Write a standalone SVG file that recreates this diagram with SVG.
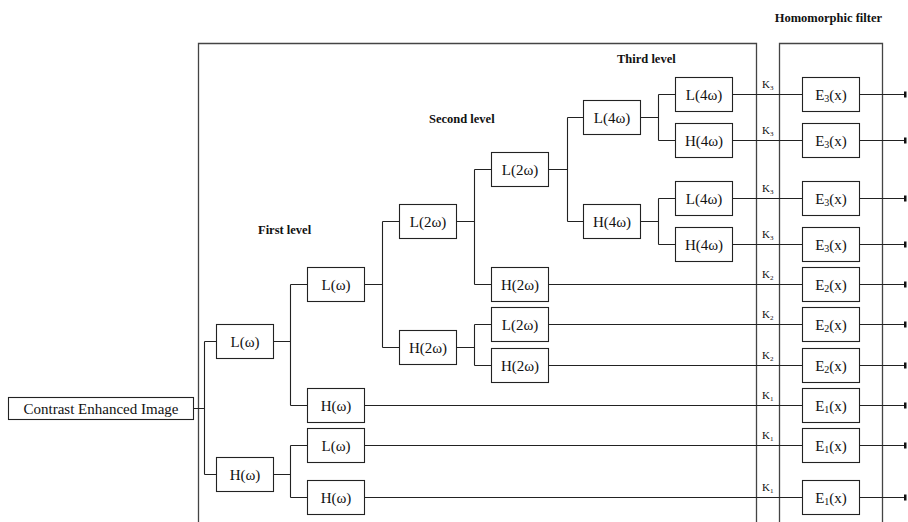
<svg xmlns="http://www.w3.org/2000/svg" width="908" height="522" viewBox="0 0 908 522">
<style>
.box{fill:#fff;stroke:#222;stroke-width:1.1}
.t{font-family:"Liberation Serif","Times New Roman",serif;font-size:15px;fill:#111;text-anchor:middle}
.lbl{font-family:"Liberation Serif","Times New Roman",serif;font-size:12.5px;font-weight:bold;fill:#111}
.k{font-family:"Liberation Serif","Times New Roman",serif;font-size:11px;fill:#111}
.c{fill:none;stroke:#222;stroke-width:1.1}
.f{fill:none;stroke:#444;stroke-width:1.3}
</style>
<defs>
<marker id="tick" markerWidth="4" markerHeight="8" refX="2" refY="4" orient="auto" markerUnits="userSpaceOnUse">
<rect x="0" y="1" width="2.5" height="6" fill="#111"/>
</marker>
</defs>
<g id="frames">
<path class="f" d="M198.5,522 V43.5 H756.5 V522"/>
<path class="f" d="M779.5,522 V43.5 H882.5 V522"/>
</g>
<g id="labels">
<text class="lbl" x="882" y="22" text-anchor="end">Homomorphic filter</text>
<text class="lbl" x="617" y="63">Third level</text>
<text class="lbl" x="429" y="123">Second level</text>
<text class="lbl" x="258" y="234">First level</text>
</g>
<g id="connectors">
<path class="c" d="M193.5,408.5 H204.5 M204.5,341.5 V474.5 M204.5,341.5 H216.5 M204.5,474.5 H216.5"/>
<path class="c" d="M273.5,341.5 H290.5 M290.5,284.5 V405.5 M290.5,284.5 H307.5 M290.5,405.5 H307.5"/>
<path class="c" d="M273.5,474.5 H290.5 M290.5,445.5 V497.5 M290.5,445.5 H307.5 M290.5,497.5 H307.5"/>
<path class="c" d="M364.5,284.5 H382.5 M382.5,221.5 V347.5 M382.5,221.5 H399.5 M382.5,347.5 H399.5"/>
<path class="c" d="M456.5,221.5 H474.5 M474.5,169.5 V284.5 M474.5,169.5 H491.5 M474.5,284.5 H491.5"/>
<path class="c" d="M456.5,347.5 H474.5 M474.5,324.5 V365.5 M474.5,324.5 H491.5 M474.5,365.5 H491.5"/>
<path class="c" d="M548.5,169.5 H567.5 M567.5,117.5 V221.5 M567.5,117.5 H583.5 M567.5,221.5 H583.5"/>
<path class="c" d="M640.5,117.5 H658.5 M658.5,94.5 V140.5 M658.5,94.5 H675.5 M658.5,140.5 H675.5"/>
<path class="c" d="M640.5,221.5 H658.5 M658.5,198.5 V244.5 M658.5,198.5 H675.5 M658.5,244.5 H675.5"/>
<path class="c" d="M732.5,94.5 H802.5 M732.5,140.5 H802.5 M732.5,198.5 H802.5 M732.5,244.5 H802.5"/>
<path class="c" d="M548.5,284.5 H802.5 M548.5,324.5 H802.5 M548.5,365.5 H802.5"/>
<path class="c" d="M364.5,405.5 H802.5 M364.5,445.5 H802.5 M364.5,497.5 H802.5"/>
<g marker-end="url(#tick)">
<path class="c" d="M859.5,94.5 H906"/>
<path class="c" d="M859.5,140.5 H906"/>
<path class="c" d="M859.5,198.5 H906"/>
<path class="c" d="M859.5,244.5 H906"/>
<path class="c" d="M859.5,284.5 H906"/>
<path class="c" d="M859.5,324.5 H906"/>
<path class="c" d="M859.5,365.5 H906"/>
<path class="c" d="M859.5,405.5 H906"/>
<path class="c" d="M859.5,445.5 H906"/>
<path class="c" d="M859.5,497.5 H906"/>
</g>
</g>
<g id="klabels">
<text class="k" x="762" y="88">K<tspan font-size="7" dy="1.5">3</tspan></text>
<text class="k" x="762" y="134">K<tspan font-size="7" dy="1.5">3</tspan></text>
<text class="k" x="762" y="192">K<tspan font-size="7" dy="1.5">3</tspan></text>
<text class="k" x="762" y="238">K<tspan font-size="7" dy="1.5">3</tspan></text>
<text class="k" x="762" y="278">K<tspan font-size="7" dy="1.5">2</tspan></text>
<text class="k" x="762" y="318">K<tspan font-size="7" dy="1.5">2</tspan></text>
<text class="k" x="762" y="359">K<tspan font-size="7" dy="1.5">2</tspan></text>
<text class="k" x="762" y="399">K<tspan font-size="7" dy="1.5">1</tspan></text>
<text class="k" x="762" y="439">K<tspan font-size="7" dy="1.5">1</tspan></text>
<text class="k" x="762" y="491">K<tspan font-size="7" dy="1.5">1</tspan></text>
</g>
<g id="root"><rect class="box" x="8.5" y="397.5" width="185" height="22"/><text class="t" x="101" y="413.5">Contrast Enhanced Image</text></g>
<g id="n1L"><rect class="box" x="216.5" y="324.5" width="57" height="34"/><text class="t" x="245" y="346.5">L(ω)</text></g>
<g id="n1H"><rect class="box" x="216.5" y="457.5" width="57" height="34"/><text class="t" x="245" y="479.5">H(ω)</text></g>
<g id="n2LL"><rect class="box" x="307.5" y="267.5" width="57" height="34"/><text class="t" x="336" y="289.5">L(ω)</text></g>
<g id="n2LH"><rect class="box" x="307.5" y="388.5" width="57" height="34"/><text class="t" x="336" y="410.5">H(ω)</text></g>
<g id="n2HL"><rect class="box" x="307.5" y="428.5" width="57" height="34"/><text class="t" x="336" y="450.5">L(ω)</text></g>
<g id="n2HH"><rect class="box" x="307.5" y="480.5" width="57" height="34"/><text class="t" x="336" y="502.5">H(ω)</text></g>
<g id="n3L"><rect class="box" x="399.5" y="204.5" width="57" height="34"/><text class="t" x="428" y="226.5">L(2ω)</text></g>
<g id="n3H"><rect class="box" x="399.5" y="330.5" width="57" height="34"/><text class="t" x="428" y="352.5">H(2ω)</text></g>
<g id="n4LL"><rect class="box" x="491.5" y="152.5" width="57" height="34"/><text class="t" x="520" y="174.5">L(2ω)</text></g>
<g id="n4LH"><rect class="box" x="491.5" y="267.5" width="57" height="34"/><text class="t" x="520" y="289.5">H(2ω)</text></g>
<g id="n4HL"><rect class="box" x="491.5" y="307.5" width="57" height="34"/><text class="t" x="520" y="329.5">L(2ω)</text></g>
<g id="n4HH"><rect class="box" x="491.5" y="348.5" width="57" height="34"/><text class="t" x="520" y="370.5">H(2ω)</text></g>
<g id="n5L"><rect class="box" x="583.5" y="100.5" width="57" height="34"/><text class="t" x="612" y="122.5">L(4ω)</text></g>
<g id="n5H"><rect class="box" x="583.5" y="204.5" width="57" height="34"/><text class="t" x="612" y="226.5">H(4ω)</text></g>
<g id="n6a"><rect class="box" x="675.5" y="77.5" width="57" height="34"/><text class="t" x="704" y="99.5">L(4ω)</text></g>
<g id="n6b"><rect class="box" x="675.5" y="123.5" width="57" height="34"/><text class="t" x="704" y="145.5">H(4ω)</text></g>
<g id="n6c"><rect class="box" x="675.5" y="181.5" width="57" height="34"/><text class="t" x="704" y="203.5">L(4ω)</text></g>
<g id="n6d"><rect class="box" x="675.5" y="227.5" width="57" height="34"/><text class="t" x="704" y="249.5">H(4ω)</text></g>
<g id="e1"><rect class="box" x="802.5" y="77.5" width="57" height="34"/><text class="t" x="831" y="99.5">E<tspan font-size="10" dy="2">3</tspan><tspan dy="-2">(x)</tspan></text></g>
<g id="e2"><rect class="box" x="802.5" y="123.5" width="57" height="34"/><text class="t" x="831" y="145.5">E<tspan font-size="10" dy="2">3</tspan><tspan dy="-2">(x)</tspan></text></g>
<g id="e3"><rect class="box" x="802.5" y="181.5" width="57" height="34"/><text class="t" x="831" y="203.5">E<tspan font-size="10" dy="2">3</tspan><tspan dy="-2">(x)</tspan></text></g>
<g id="e4"><rect class="box" x="802.5" y="227.5" width="57" height="34"/><text class="t" x="831" y="249.5">E<tspan font-size="10" dy="2">3</tspan><tspan dy="-2">(x)</tspan></text></g>
<g id="e5"><rect class="box" x="802.5" y="267.5" width="57" height="34"/><text class="t" x="831" y="289.5">E<tspan font-size="10" dy="2">2</tspan><tspan dy="-2">(x)</tspan></text></g>
<g id="e6"><rect class="box" x="802.5" y="307.5" width="57" height="34"/><text class="t" x="831" y="329.5">E<tspan font-size="10" dy="2">2</tspan><tspan dy="-2">(x)</tspan></text></g>
<g id="e7"><rect class="box" x="802.5" y="348.5" width="57" height="34"/><text class="t" x="831" y="370.5">E<tspan font-size="10" dy="2">2</tspan><tspan dy="-2">(x)</tspan></text></g>
<g id="e8"><rect class="box" x="802.5" y="388.5" width="57" height="34"/><text class="t" x="831" y="410.5">E<tspan font-size="10" dy="2">1</tspan><tspan dy="-2">(x)</tspan></text></g>
<g id="e9"><rect class="box" x="802.5" y="428.5" width="57" height="34"/><text class="t" x="831" y="450.5">E<tspan font-size="10" dy="2">1</tspan><tspan dy="-2">(x)</tspan></text></g>
<g id="e10"><rect class="box" x="802.5" y="480.5" width="57" height="34"/><text class="t" x="831" y="502.5">E<tspan font-size="10" dy="2">1</tspan><tspan dy="-2">(x)</tspan></text></g>
</svg>
